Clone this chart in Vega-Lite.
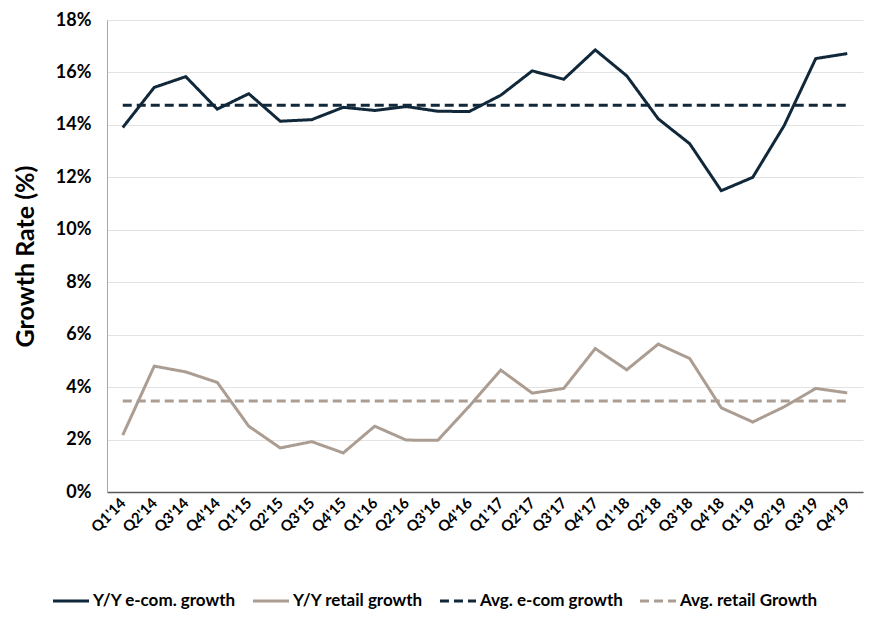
{
  "$schema": "https://vega.github.io/schema/vega-lite/v6.json",
  "autosize": "none",
  "width": 756,
  "height": 472,
  "padding": {"left": 107, "top": 20, "right": 11, "bottom": 129},
  "background": "white",
  "config": {
    "font": "Lato",
    "view": {"stroke": null}
  },
  "data": {
    "values": [
      {"q": "Q1'14", "s": "Y/Y e-com. growth", "v": 13.9},
      {"q": "Q2'14", "s": "Y/Y e-com. growth", "v": 15.43},
      {"q": "Q3'14", "s": "Y/Y e-com. growth", "v": 15.84},
      {"q": "Q4'14", "s": "Y/Y e-com. growth", "v": 14.6},
      {"q": "Q1'15", "s": "Y/Y e-com. growth", "v": 15.19},
      {"q": "Q2'15", "s": "Y/Y e-com. growth", "v": 14.14},
      {"q": "Q3'15", "s": "Y/Y e-com. growth", "v": 14.2},
      {"q": "Q4'15", "s": "Y/Y e-com. growth", "v": 14.67},
      {"q": "Q1'16", "s": "Y/Y e-com. growth", "v": 14.55},
      {"q": "Q2'16", "s": "Y/Y e-com. growth", "v": 14.7},
      {"q": "Q3'16", "s": "Y/Y e-com. growth", "v": 14.52},
      {"q": "Q4'16", "s": "Y/Y e-com. growth", "v": 14.51},
      {"q": "Q1'17", "s": "Y/Y e-com. growth", "v": 15.13},
      {"q": "Q2'17", "s": "Y/Y e-com. growth", "v": 16.06},
      {"q": "Q3'17", "s": "Y/Y e-com. growth", "v": 15.74},
      {"q": "Q4'17", "s": "Y/Y e-com. growth", "v": 16.86},
      {"q": "Q1'18", "s": "Y/Y e-com. growth", "v": 15.87},
      {"q": "Q2'18", "s": "Y/Y e-com. growth", "v": 14.23},
      {"q": "Q3'18", "s": "Y/Y e-com. growth", "v": 13.28},
      {"q": "Q4'18", "s": "Y/Y e-com. growth", "v": 11.49},
      {"q": "Q1'19", "s": "Y/Y e-com. growth", "v": 12.0},
      {"q": "Q2'19", "s": "Y/Y e-com. growth", "v": 13.98},
      {"q": "Q3'19", "s": "Y/Y e-com. growth", "v": 16.53},
      {"q": "Q4'19", "s": "Y/Y e-com. growth", "v": 16.72},

      {"q": "Q1'14", "s": "Y/Y retail growth", "v": 2.17},
      {"q": "Q2'14", "s": "Y/Y retail growth", "v": 4.8},
      {"q": "Q3'14", "s": "Y/Y retail growth", "v": 4.58},
      {"q": "Q4'14", "s": "Y/Y retail growth", "v": 4.18},
      {"q": "Q1'15", "s": "Y/Y retail growth", "v": 2.51},
      {"q": "Q2'15", "s": "Y/Y retail growth", "v": 1.68},
      {"q": "Q3'15", "s": "Y/Y retail growth", "v": 1.92},
      {"q": "Q4'15", "s": "Y/Y retail growth", "v": 1.49},
      {"q": "Q1'16", "s": "Y/Y retail growth", "v": 2.51},
      {"q": "Q2'16", "s": "Y/Y retail growth", "v": 1.98},
      {"q": "Q3'16", "s": "Y/Y retail growth", "v": 1.97},
      {"q": "Q4'16", "s": "Y/Y retail growth", "v": 3.27},
      {"q": "Q1'17", "s": "Y/Y retail growth", "v": 4.65},
      {"q": "Q2'17", "s": "Y/Y retail growth", "v": 3.77},
      {"q": "Q3'17", "s": "Y/Y retail growth", "v": 3.95},
      {"q": "Q4'17", "s": "Y/Y retail growth", "v": 5.47},
      {"q": "Q1'18", "s": "Y/Y retail growth", "v": 4.66},
      {"q": "Q2'18", "s": "Y/Y retail growth", "v": 5.64},
      {"q": "Q3'18", "s": "Y/Y retail growth", "v": 5.09},
      {"q": "Q4'18", "s": "Y/Y retail growth", "v": 3.21},
      {"q": "Q1'19", "s": "Y/Y retail growth", "v": 2.67},
      {"q": "Q2'19", "s": "Y/Y retail growth", "v": 3.25},
      {"q": "Q3'19", "s": "Y/Y retail growth", "v": 3.95},
      {"q": "Q4'19", "s": "Y/Y retail growth", "v": 3.78},

      {"q": "Q1'14", "s": "Avg. e-com growth", "v": 14.75},
      {"q": "Q4'19", "s": "Avg. e-com growth", "v": 14.75},
      {"q": "Q1'14", "s": "Avg. retail Growth", "v": 3.47},
      {"q": "Q4'19", "s": "Avg. retail Growth", "v": 3.47}
    ]
  },
  "mark": {"type": "line", "strokeWidth": 3, "strokeCap": "butt", "strokeJoin": "miter"},
  "encoding": {
    "x": {
      "field": "q",
      "type": "ordinal",
      "sort": null,
      "scale": {"type": "point", "padding": 0.5},
      "axis": {
        "title": null,
        "labelAngle": -45,
        "labelAlign": "right",
        "labelBaseline": "middle",
        "labelFontSize": 15,
        "labelFontWeight": "bold",
        "labelColor": "#000000",
        "labelPadding": 8,
        "ticks": false,
        "domainColor": "#595959",
        "domainWidth": 1.5,
        "grid": false
      }
    },
    "y": {
      "field": "v",
      "type": "quantitative",
      "scale": {"domain": [0, 18], "nice": false},
      "axis": {
        "title": "Growth Rate (%)",
        "titleFontSize": 25,
        "titleFontWeight": "bold",
        "titleColor": "#000000",
        "titlePadding": 17,
        "values": [0, 2, 4, 6, 8, 10, 12, 14, 16, 18],
        "labelExpr": "datum.value + '%'",
        "labelFontSize": 18,
        "labelFontWeight": "bold",
        "labelColor": "#000000",
        "labelPadding": 16,
        "ticks": false,
        "domainColor": "#a6a6a6",
        "domainWidth": 1,
        "gridColor": "#e3e3e3",
        "gridWidth": 1
      }
    },
    "color": {
      "field": "s",
      "type": "nominal",
      "scale": {
        "domain": ["Y/Y e-com. growth", "Y/Y retail growth", "Avg. e-com growth", "Avg. retail Growth"],
        "range": ["#10283a", "#ab9d92", "#10283a", "#ab9d92"]
      },
      "legend": {
        "title": null,
        "orient": "none",
        "legendX": -56,
        "legendY": 561,
        "direction": "horizontal",
        "symbolType": "stroke",
        "symbolSize": 1300,
        "symbolStrokeWidth": 3,
        "labelFontSize": 17,
        "labelFontWeight": "bold",
        "labelColor": "#000000",
        "labelOffset": 2,
        "columnPadding": 10
      }
    },
    "strokeDash": {
      "field": "s",
      "type": "nominal",
      "scale": {
        "domain": ["Y/Y e-com. growth", "Y/Y retail growth", "Avg. e-com growth", "Avg. retail Growth"],
        "range": [[1, 0], [1, 0], [9, 5], [9, 5]]
      },
      "legend": null
    }
  }
}
